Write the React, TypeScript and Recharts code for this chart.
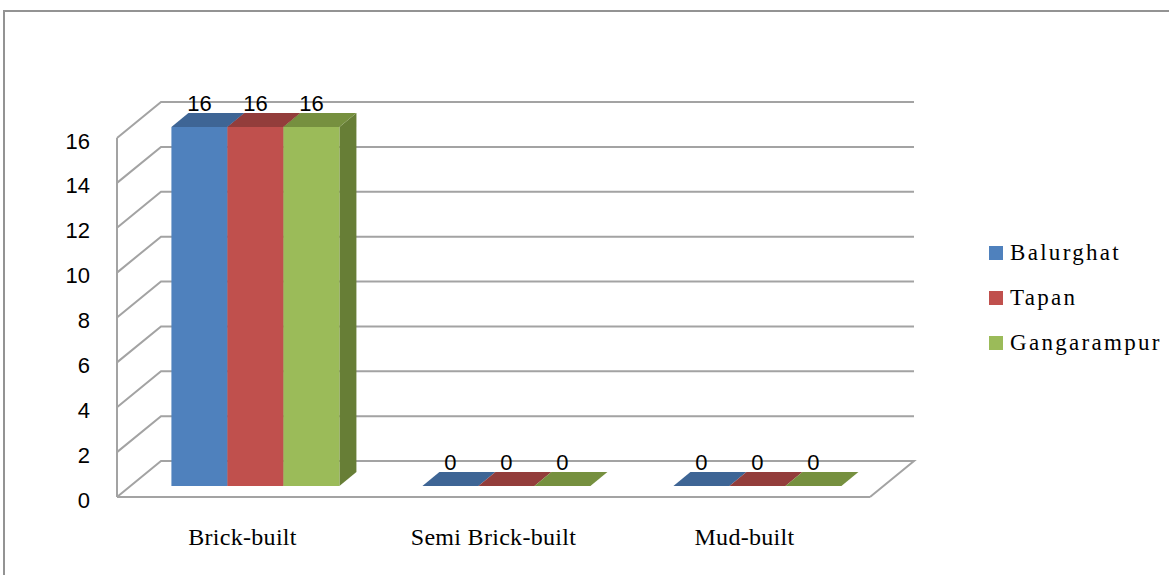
import { BarChart, Bar, XAxis, YAxis, CartesianGrid, LabelList } from 'recharts';

const CATEGORIES = ['Brick-built', 'Semi Brick-built', 'Mud-built'];
const BALURGHAT = [16, 0, 0];
const TAPAN = [16, 0, 0];
const GANGARAMPUR = [16, 0, 0];
const Y_TICKS = [0, 2, 4, 6, 8, 10, 12, 14, 16];

const SERIES = [
  { name: 'Balurghat', values: BALURGHAT, front: '#4F81BD', top: '#3E6595', side: '#385C88' },
  { name: 'Tapan', values: TAPAN, front: '#C0504D', top: '#933D3B', side: '#8A3836' },
  { name: 'Gangarampur', values: GANGARAMPUR, front: '#9BBB59', top: '#76903F', side: '#677E36' }
];

const data = CATEGORIES.map((category, i) => {
  const row: Record<string, string | number> = { category };
  SERIES.forEach(s => { row[s.name] = s.values[i]; });
  return row;
});

// fake 3d: back wall offset, and where the boxes sit inside the floor depth
const WALL_DX = 44;
const WALL_DY = 36;
const BOX_DX = 13;
const BOX_DY = 11;
const BOX_DEPTH_X = 17;
const BOX_DEPTH_Y = 14;

const GRID_COLOR = '#a3a3a3';
const SANS = "'Liberation Sans', Arial, sans-serif";
const SERIF = "'Liberation Serif', 'Times New Roman', serif";

const Box3D = (props: any) => {
  const { x, y, width, height, front, top, side } = props;
  if (x == null || y == null) return null;
  const fx = x + BOX_DX;
  const fy = y - BOX_DY;
  const h = Math.max(height, 0);
  const topFace = `M${fx},${fy} L${fx + BOX_DEPTH_X},${fy - BOX_DEPTH_Y} L${fx + width + BOX_DEPTH_X},${fy - BOX_DEPTH_Y} L${fx + width},${fy} Z`;
  const sideFace = `M${fx + width},${fy} L${fx + width + BOX_DEPTH_X},${fy - BOX_DEPTH_Y} L${fx + width + BOX_DEPTH_X},${fy + h - BOX_DEPTH_Y} L${fx + width},${fy + h} Z`;
  return (
    <g>
      {h > 0 && <path d={sideFace} fill={side} />}
      {h > 0 && <rect x={fx} y={fy} width={width} height={h} fill={front} />}
      <path d={topFace} fill={top} />
    </g>
  );
};

const DataLabel = (props: any) => {
  const vb = props.viewBox ?? props;
  const { x, y, width } = vb;
  if (x == null || y == null) return null;
  return (
    <text
      x={x + width / 2 + BOX_DX}
      y={y - WALL_DY + 1}
      textAnchor="middle"
      dominantBaseline="central"
      fontFamily={SANS}
      fontSize={22}
      fill="#000"
    >
      {props.value}
    </text>
  );
};

const GridLine = (props: any) => {
  const { x1, y1, x2, index, y, height } = props;
  const isFloor = y != null && height != null && Math.abs(y1 - (y + height)) < 1;
  const d = `M${x1},${y1} L${x1 + WALL_DX},${y1 - WALL_DY} L${x2 + WALL_DX},${y1 - WALL_DY}` +
    (isFloor ? ` L${x2},${y1}` : '');
  return <path key={`grid-${index}`} d={d} fill="none" stroke={GRID_COLOR} strokeWidth={2} />;
};

const CategoryTick = (props: any) => {
  const { x, y, payload } = props;
  return (
    <text x={x} y={y} dy={17} textAnchor="middle" fontFamily={SERIF} fontSize={24}
      letterSpacing={0.3} fill="#000">
      {payload.value}
    </text>
  );
};

const ValueTick = (props: any) => {
  const { x, y, payload } = props;
  return (
    <text x={x} y={y + 3} textAnchor="end" dominantBaseline="central" fontFamily={SANS}
      fontSize={22} fill="#000">
      {payload.value}
    </text>
  );
};

export default function App() {
  return (
    <div style={{ position: 'absolute', left: 0, top: 0, width: 1169, height: 575, background: '#fff', overflow: 'hidden' }}>
      <div style={{ position: 'absolute', left: 3, top: 10, width: 1200, height: 600, borderLeft: '2px solid #939393', borderTop: '2px solid #939393' }} />
      <div style={{ position: 'absolute', left: 0, top: 0 }}>
        <BarChart
          width={1169}
          height={575}
          data={data}
          margin={{ top: 138, right: 299, bottom: 38, left: 0 }}
          barCategoryGap="16.5%"
          barGap={0}
        >
          <CartesianGrid vertical={false} horizontal={(p: any) => <GridLine {...p} />} />
          <XAxis
            dataKey="category"
            height={40}
            axisLine={{ stroke: GRID_COLOR, strokeWidth: 2 }}
            tickLine={false}
            tickSize={0}
            tickMargin={31}
            tick={<CategoryTick />}
          />
          <YAxis
            width={117}
            domain={[0, 16]}
            ticks={Y_TICKS}
            interval={0}
            axisLine={{ stroke: GRID_COLOR, strokeWidth: 2 }}
            tickLine={false}
            tickSize={0}
            tickMargin={27}
            tick={<ValueTick />}
          />
          {SERIES.map(s => (
            <Bar
              key={s.name}
              dataKey={s.name}
              isAnimationActive={false}
              shape={(p: any) => <Box3D {...p} front={s.front} top={s.top} side={s.side} />}
            >
              <LabelList dataKey={s.name} content={<DataLabel />} />
            </Bar>
          ))}
        </BarChart>
      </div>
      <div style={{ position: 'absolute', left: 989, top: 230 }}>
        {SERIES.map(s => (
          <div key={s.name} style={{ display: 'flex', alignItems: 'center', height: 45 }}>
            <span style={{ width: 14, height: 14, background: s.front, marginRight: 7, flexShrink: 0 }} />
            <span style={{ fontFamily: SERIF, fontSize: 23, letterSpacing: 2.3, color: '#000', whiteSpace: 'nowrap' }}>
              {s.name}
            </span>
          </div>
        ))}
      </div>
    </div>
  );
}
